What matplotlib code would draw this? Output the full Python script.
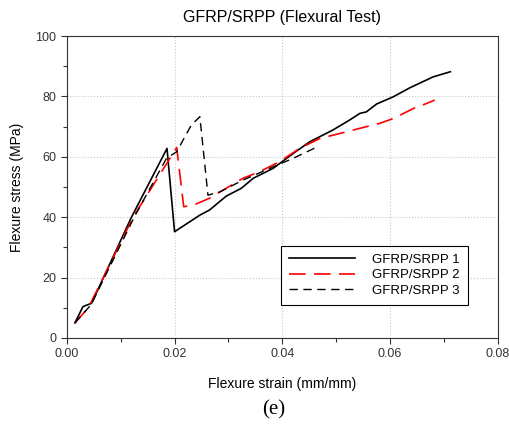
import matplotlib.pyplot as plt
from matplotlib.ticker import MultipleLocator, FormatStrFormatter

plt.rcParams.update({'font.family': 'Liberation Sans', 'font.size': 9})

# --- dados ---
strain_1 = [0.0015, 0.0030, 0.0046, 0.0120, 0.0186, 0.0200, 0.0247, 0.0265, 0.0296,
            0.0324, 0.0346, 0.0383, 0.0420, 0.0451, 0.0494, 0.0525, 0.0544, 0.0556,
            0.0575, 0.0606, 0.0637, 0.0680, 0.0712]
stress_1 = [5.0, 10.4, 11.5, 40.0, 62.8, 35.2, 40.7, 42.4, 47.0,
            49.6, 52.9, 56.2, 61.1, 65.0, 68.9, 72.2, 74.4, 74.9,
            77.5, 79.9, 82.9, 86.5, 88.2]

strain_2 = [0.0015, 0.0040, 0.0123, 0.0204, 0.0217, 0.0235, 0.0265, 0.0296, 0.0327,
            0.0358, 0.0395, 0.0432, 0.0470, 0.0519, 0.0556, 0.0581, 0.0606, 0.0643,
            0.0661, 0.0683]
stress_2 = [5.0, 10.0, 40.0, 63.1, 43.5, 44.0, 46.3, 49.6, 52.9,
            55.1, 58.4, 62.8, 66.1, 68.3, 70.0, 71.1, 72.7, 76.0,
            77.2, 78.8]

strain_3 = [0.0015, 0.0045, 0.0125, 0.0185, 0.0204, 0.0231, 0.0247, 0.0262, 0.0284,
            0.0327, 0.0383, 0.0420, 0.0466]
stress_3 = [5.0, 11.0, 40.0, 59.5, 61.7, 70.5, 73.3, 47.3, 48.4,
            52.3, 56.7, 59.5, 63.4]

labels = ['GFRP/SRPP 1', 'GFRP/SRPP 2', 'GFRP/SRPP 3']

fig = plt.figure(figsize=(5.1, 4.3), dpi=100)
ax = fig.add_axes([0.131, 0.214, 0.845, 0.702])

ax.plot(strain_1, stress_1, color='black', linewidth=1.2, label=labels[0])
ax.plot(strain_2, stress_2, color='red', linewidth=1.2, dashes=(10, 5), label=labels[1])
ax.plot(strain_3, stress_3, color='black', linewidth=1.0, dashes=(6, 4), label=labels[2])

ax.set_xlim(0, 0.08)
ax.set_ylim(0, 100)
ax.xaxis.set_major_locator(MultipleLocator(0.02))
ax.xaxis.set_minor_locator(MultipleLocator(0.01))
ax.yaxis.set_major_locator(MultipleLocator(20))
ax.yaxis.set_minor_locator(MultipleLocator(10))
ax.xaxis.set_major_formatter(FormatStrFormatter('%.2f'))
ax.tick_params(which='both', direction='out', length=4, width=0.8, colors='#333333')
ax.tick_params(which='minor', length=3)
for s in ax.spines.values():
    s.set_color('#333333')
ax.grid(True, which='major', color='#c8c8c8', linestyle=':', linewidth=0.8)
ax.set_axisbelow(True)

ax.set_title('GFRP/SRPP (Flexural Test)', fontsize=11.5, pad=10)
ax.set_xlabel('Flexure strain (mm/mm)', fontsize=10, labelpad=12)
ax.set_ylabel('Flexure stress (MPa)', fontsize=10, labelpad=8)

leg = ax.legend(loc='lower right', bbox_to_anchor=(0.93, 0.11), fontsize=9.5,
                fancybox=False, edgecolor='black', framealpha=1,
                handlelength=5.0, handletextpad=1.3, borderpad=0.6, labelspacing=0.25,
                borderaxespad=0)
leg.get_frame().set_linewidth(0.8)

fig.text(0.537, 0.035, '(e)', fontsize=15, family='Liberation Serif', ha='center')

plt.savefig('out.png', dpi=100)
